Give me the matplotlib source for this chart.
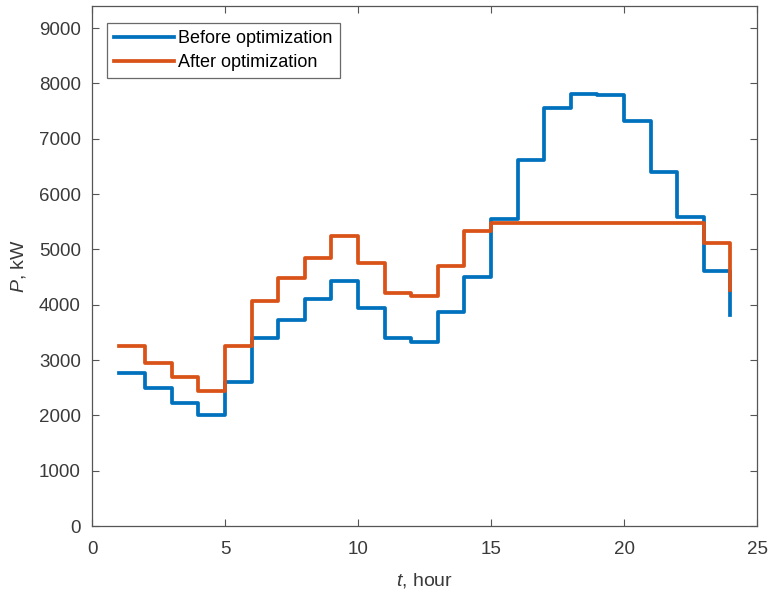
import matplotlib
matplotlib.use("Agg")
import matplotlib.pyplot as plt

plt.rcParams['font.family'] = ['Liberation Sans', 'DejaVu Sans']
plt.rcParams['mathtext.fontset'] = 'custom'
plt.rcParams['mathtext.rm'] = 'Liberation Sans'
plt.rcParams['mathtext.it'] = 'Liberation Sans:italic'

hours = list(range(1, 25))
before = [2770, 2500, 2220, 2010, 2600, 3400, 3720, 4110, 4430, 3940, 3400, 3330,
          3870, 4500, 5550, 6620, 7560, 7810, 7790, 7320, 6400, 5590, 4610, 3820]
after = [3260, 2950, 2690, 2440, 3260, 4070, 4480, 4850, 5240, 4750, 4210, 4160,
         4700, 5330, 5480, 5480, 5480, 5480, 5480, 5480, 5480, 5480, 5120, 4270]
labels = ["Before optimization", "After optimization"]
xticks = [0, 5, 10, 15, 20, 25]
yticks = list(range(0, 10000, 1000))

fig = plt.figure(figsize=(7.68, 5.96), dpi=100)
ax = fig.add_axes([0.1198, 0.1174, 0.8659, 0.8725])

ax.step(hours, before, where='post', color='#0072BD', lw=2.7, label=labels[0])
ax.step(hours, after, where='post', color='#D95319', lw=2.7, label=labels[1])

ax.set_xlim(0, 25)
ax.set_ylim(0, 9400)
ax.set_xticks(xticks)
ax.set_yticks(yticks)

axc = '#555555'
for s in ax.spines.values():
    s.set_color(axc)
    s.set_linewidth(0.9)
ax.tick_params(direction='in', top=True, right=True, length=5, width=0.8,
               color=axc, labelcolor='#3a3a3a', labelsize=13.5)
ax.tick_params(axis='y', pad=8)
ax.tick_params(axis='x', pad=11)

ax.set_xlabel(r'$\it{t}$, hour', fontsize=14, color='#3a3a3a', labelpad=9)
ax.set_ylabel(r'$\it{P}$, kW', fontsize=14, color='#3a3a3a', labelpad=8)

leg = ax.legend(loc='upper left', bbox_to_anchor=(0.0225, 0.967), fontsize=13,
                frameon=True, fancybox=False, edgecolor='#444444',
                handlelength=3.3, handletextpad=0.25, borderpad=0.4,
                labelspacing=0.38, borderaxespad=0)
leg.get_frame().set_linewidth(0.9)

fig.savefig("out.png", dpi=100)
